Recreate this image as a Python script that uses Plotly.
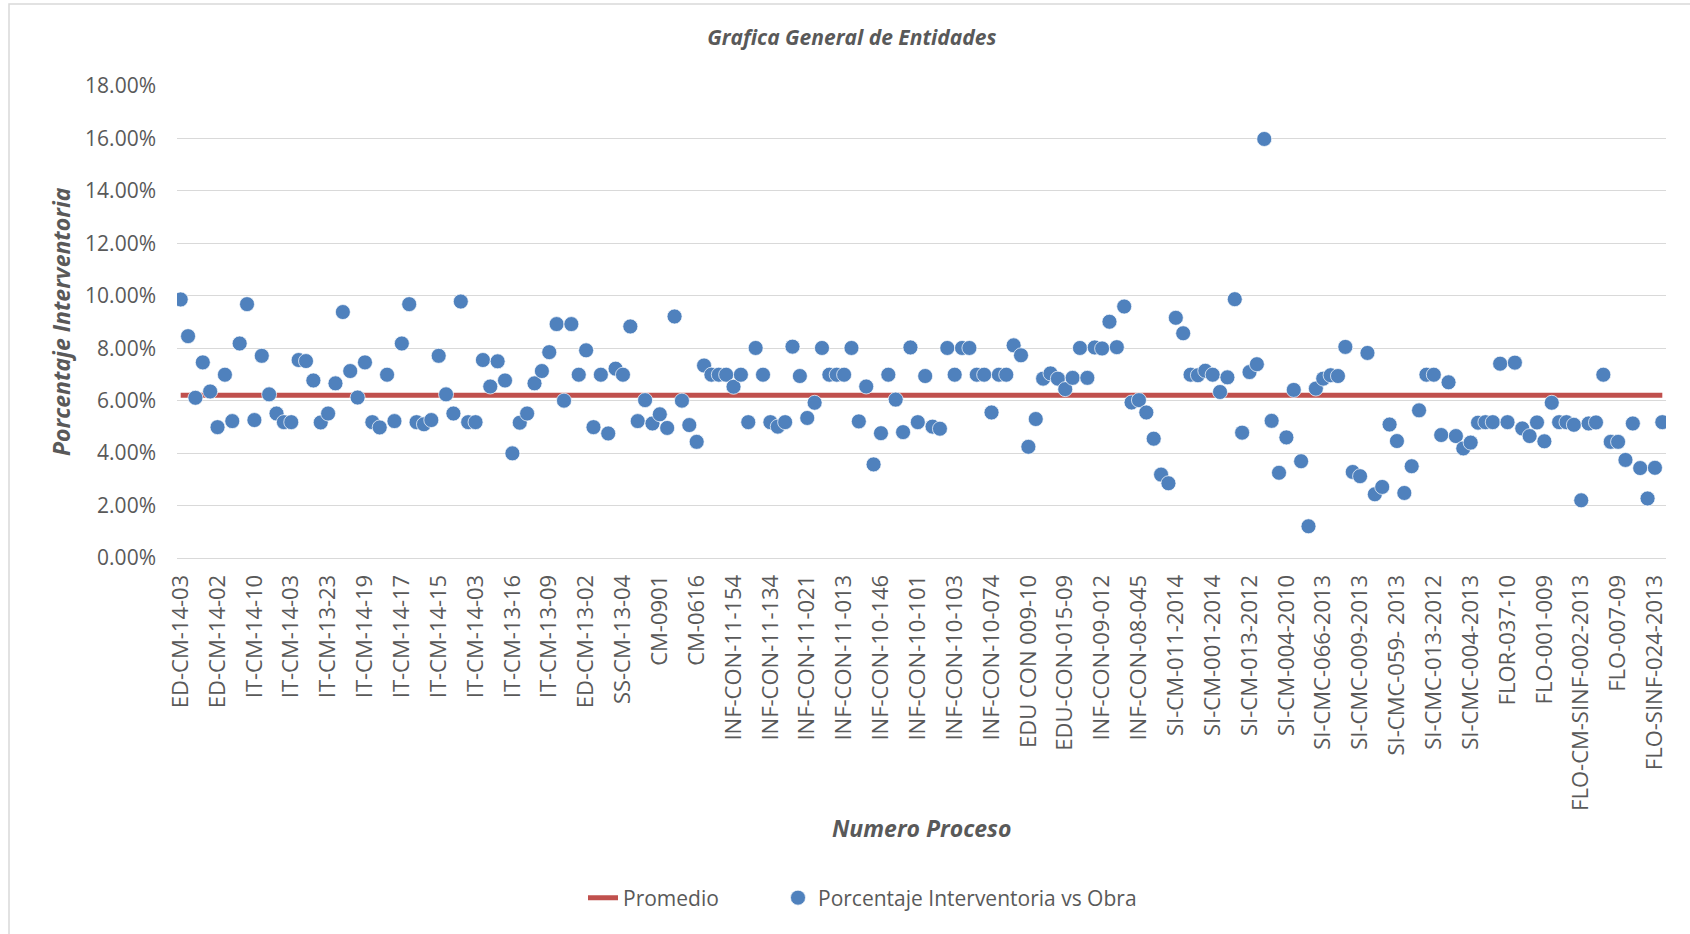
import plotly.graph_objects as go

# Porcentaje interventoria vs obra (%), one value per proceso, in chart order
PORCENTAJE = [
    9.86, 8.46, 6.11, 7.46, 6.35, 4.99, 6.99, 5.22, 8.18, 9.68,
    5.26, 7.71, 6.24, 5.51, 5.18, 5.18, 7.55, 7.51, 6.77, 5.17,
    5.51, 6.66, 9.38, 7.13, 6.12, 7.46, 5.18, 4.98, 6.99, 5.22,
    8.18, 9.68, 5.18, 5.10, 5.26, 7.71, 6.24, 5.51, 9.78, 5.18,
    5.18, 7.55, 6.54, 7.50, 6.77, 3.99, 5.16, 5.51, 6.66, 7.13,
    7.85, 8.92, 6.00, 8.92, 6.99, 7.92, 4.99, 6.99, 4.75, 7.22,
    6.99, 8.83, 5.22, 6.02, 5.13, 5.48, 4.96, 9.21, 6.00, 5.07,
    4.43, 7.34, 6.99, 6.99, 6.99, 6.53, 6.99, 5.18, 8.01, 6.99,
    5.18, 5.01, 5.18, 8.06, 6.94, 5.34, 5.92, 8.01, 6.99, 6.99,
    6.99, 8.01, 5.21, 6.54, 3.57, 4.76, 6.99, 6.04, 4.80, 8.03,
    5.18, 6.94, 5.01, 4.93, 8.01, 6.99, 8.01, 8.01, 6.99, 6.99,
    5.55, 6.99, 6.99, 8.11, 7.73, 4.24, 5.30, 6.84, 7.04, 6.84,
    6.44, 6.87, 8.01, 6.87, 8.03, 7.99, 9.01, 8.04, 9.59, 5.93,
    6.02, 5.55, 4.55, 3.18, 2.85, 9.16, 8.57, 6.99, 6.97, 7.14,
    6.99, 6.33, 6.89, 9.87, 4.78, 7.09, 7.39, 15.98, 5.23, 3.25,
    4.60, 6.41, 3.69, 1.21, 6.46, 6.84, 6.97, 6.94, 8.05, 3.28,
    3.12, 7.82, 2.43, 2.71, 5.09, 4.46, 2.48, 3.50, 5.63, 6.99,
    6.99, 4.69, 6.70, 4.65, 4.18, 4.40, 5.16, 5.18, 5.18, 7.41,
    5.18, 7.45, 4.94, 4.65, 5.17, 4.45, 5.92, 5.18, 5.18, 5.08,
    2.20, 5.13, 5.17, 6.99, 4.43, 4.43, 3.74, 5.13, 3.43, 2.27,
    3.44, 5.18,
]

PROMEDIO = 6.21

# labels shown on the category axis (every fifth proceso)
PROCESO_LABELS = [
    "ED-CM-14-03", "ED-CM-14-02", "IT-CM-14-10", "IT-CM-14-03", "IT-CM-13-23",
    "IT-CM-14-19", "IT-CM-14-17", "IT-CM-14-15", "IT-CM-14-03", "IT-CM-13-16",
    "IT-CM-13-09", "ED-CM-13-02", "SS-CM-13-04", "CM-0901", "CM-0616",
    "INF-CON-11-154", "INF-CON-11-134", "INF-CON-11-021", "INF-CON-11-013",
    "INF-CON-10-146", "INF-CON-10-101", "INF-CON-10-103", "INF-CON-10-074",
    "EDU CON 009-10", "EDU-CON-015-09", "INF-CON-09-012", "INF-CON-08-045",
    "SI-CM-011-2014", "SI-CM-001-2014", "SI-CM-013-2012", "SI-CM-004-2010",
    "SI-CMC-066-2013", "SI-CMC-009-2013", "SI-CMC-059- 2013", "SI-CMC-013-2012",
    "SI-CMC-004-2013", "FLOR-037-10", "FLO-001-009", "FLO-CM-SINF-002-2013",
    "FLO-007-09", "FLO-SINF-024-2013",
]
LABEL_STEP = 5

TEXT = "#595959"
GRID = "#D9D9D9"
FONT = "Open Sans, sans-serif"

x = list(range(len(PORCENTAJE)))

fig = go.Figure()

fig.add_trace(
    go.Scatter(
        x=x,
        y=[PROMEDIO] * len(x),
        mode="lines",
        name="Promedio",
        line=dict(color="#C0504D", width=5),
        legend="legend",
    )
)

fig.add_trace(
    go.Scatter(
        x=x,
        y=PORCENTAJE,
        mode="markers",
        name="Porcentaje Interventoria vs Obra",
        marker=dict(
            color="#4F81BD",
            size=15,
            line=dict(color="rgba(255,255,255,0.7)", width=1),
        ),
        hovertemplate="%{y:.2f}%<extra></extra>",
        legend="legend2",
    )
)

legend_common = dict(
    orientation="h",
    xref="container",
    xanchor="left",
    yref="container",
    y=1 - 898 / 934,
    yanchor="middle",
    font=dict(size=21, color=TEXT),
    bgcolor="rgba(0,0,0,0)",
)

fig.update_layout(
    width=1690,
    height=934,
    paper_bgcolor="white",
    plot_bgcolor="white",
    font=dict(family=FONT, size=21, color=TEXT),
    margin=dict(l=177, r=24, t=86, b=376),
    title=dict(
        text="<b><i>Grafica General de Entidades</i></b>",
        font=dict(size=21, color=TEXT),
        xref="container",
        x=0.504,
        xanchor="center",
        yref="container",
        y=1 - 38 / 934,
        yanchor="middle",
    ),
    showlegend=True,
    legend=dict(legend_common, x=583 / 1690),
    legend2=dict(legend_common, x=778 / 1690),
    xaxis=dict(
        range=[-0.5, len(x) - 0.5],
        tickmode="array",
        tickvals=list(range(0, len(x), LABEL_STEP))[: len(PROCESO_LABELS)],
        ticktext=PROCESO_LABELS,
        tickangle=-90,
        ticklabelstandoff=7,
        showgrid=False,
        zeroline=False,
        showline=True,
        linecolor=GRID,
        linewidth=1,
        ticks="",
        tickfont=dict(size=22, color=TEXT),
    ),
    yaxis=dict(
        range=[0, 18],
        dtick=2,
        tickformat=".2f",
        ticksuffix="%",
        showgrid=True,
        gridcolor=GRID,
        gridwidth=1.3,
        zeroline=False,
        showline=False,
        ticks="",
        ticklabelstandoff=20,
        tickfont=dict(size=21, color=TEXT),
    ),
    annotations=[
        dict(
            text="<b><i>Numero Proceso</i></b>",
            xref="paper",
            yref="paper",
            x=0.5,
            y=(558 - 828) / 472,
            xanchor="center",
            yanchor="middle",
            showarrow=False,
            font=dict(size=23, color=TEXT),
        ),
        dict(
            text="<b><i>Porcentaje Interventoria</i></b>",
            xref="paper",
            yref="paper",
            x=(61 - 177) / 1489,
            y=0.5,
            xanchor="center",
            yanchor="middle",
            textangle=-90,
            showarrow=False,
            font=dict(size=23, color=TEXT),
        ),
    ],
    shapes=[
        dict(
            type="rect",
            xref="paper",
            yref="paper",
            x0=(9 - 177) / 1489,
            y0=-2,
            x1=2,
            y1=(558 - 4) / 472,
            line=dict(color=GRID, width=1.5),
            layer="below",
        )
    ],
)

# the page keeps the browser's default body margin; drop it so the figure sits at 0,0
fig.write_html(
    "out.html",
    config={"displayModeBar": False},
    post_script="document.body.style.margin = '0';",
)
